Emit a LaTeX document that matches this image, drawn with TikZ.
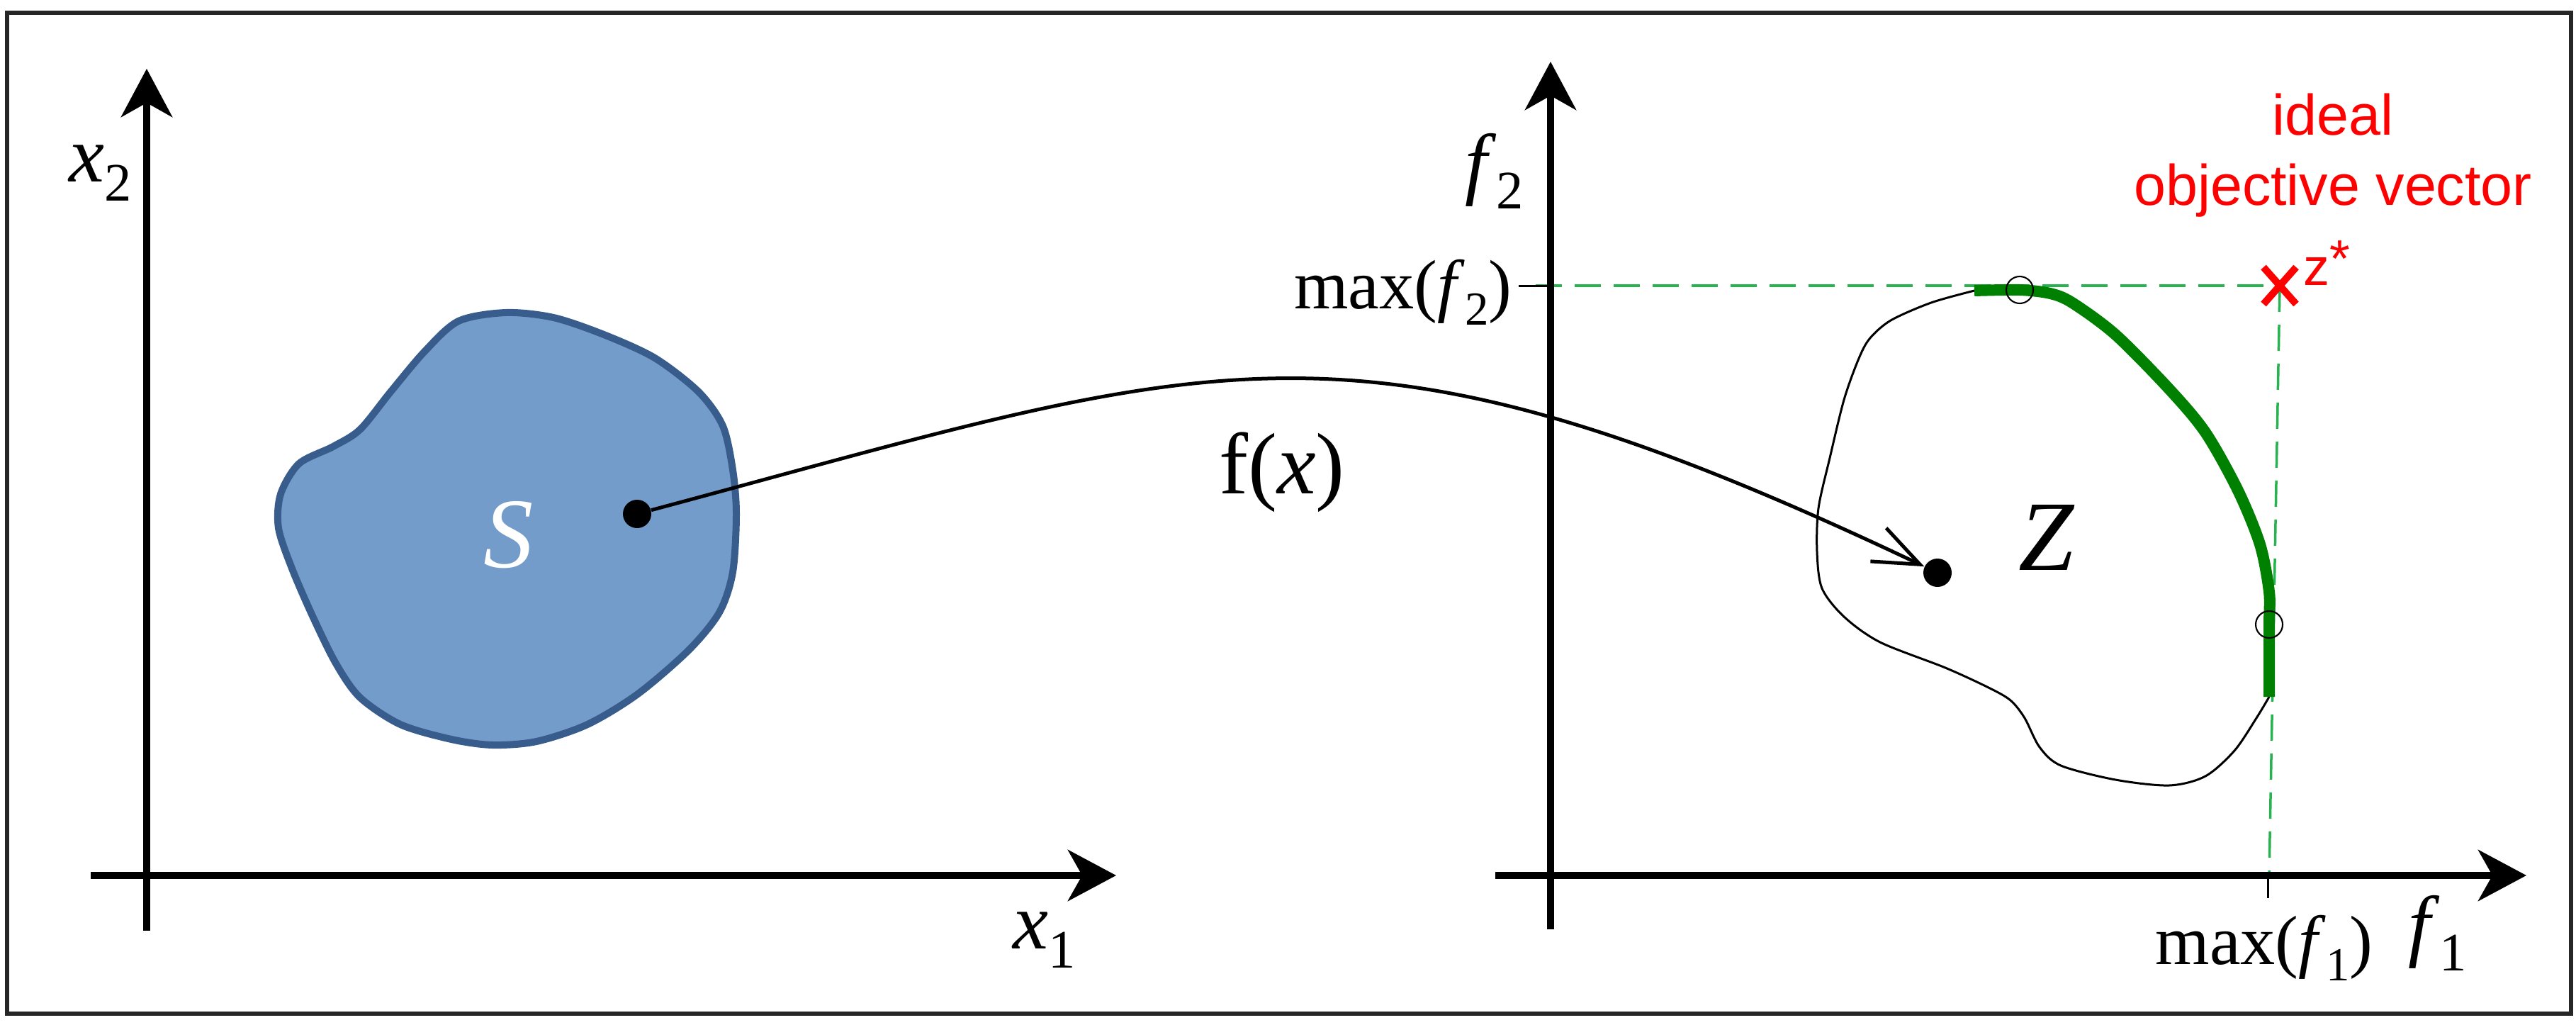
\documentclass[tikz,border=0pt]{standalone}
\usepackage{fontspec}
\setmainfont{Liberation Serif}
\setsansfont{Liberation Sans}
\usetikzlibrary{arrows.meta, shapes.misc}

\definecolor{setfill}{RGB}{115,156,203}
\definecolor{setline}{RGB}{56,93,140}
\definecolor{guidegreen}{RGB}{40,178,80}
\definecolor{frontgreen}{RGB}{0,128,0}

\newcommand{\axisfont}{\fontsize{32}{38}\selectfont}
\newcommand{\maxfont}{\fontsize{28}{34}\selectfont}
\newcommand{\setfont}{\fontsize{40}{48}\selectfont}
\newcommand{\idx}[1]{\raisebox{-0.24em}{\scalebox{0.68}{#1}}}

\begin{document}
\begin{tikzpicture}[
  axis/.style={line width=0.1cm, -{Stealth[length=0.68cm, width=0.72cm, inset=0.2cm]}},
  dot/.style={circle, fill=black, inner sep=0pt, minimum size=0.4cm},
  ring/.style={circle, draw, line width=0.6pt, inner sep=0pt, minimum size=0.38cm},
  guide/.style={guidegreen, line width=0.045cm, dash pattern=on 0.37cm off 0.18cm},
  axislabel/.style={inner sep=0pt, font=\axisfont},
  maxlabel/.style={inner sep=0pt, font=\maxfont}
]
\useasboundingbox (0,0) rectangle (36.35,14.45);
\draw[black!85, line width=0.06cm] (0.10,0.155) rectangle (36.28,14.27);

% decision space
\draw[axis] (2.07,1.32) -- (2.07,13.48);
\draw[axis] (1.28,2.10) -- (15.75,2.10);
\node[axislabel, anchor=base west] (xtwo) at (0.97,11.88) {\textit{x}\idx{2}};
\node[axislabel, anchor=base west] (xone) at (14.29,1.07) {\textit{x}\idx{1}};
\draw[fill=setfill, draw=setline, line width=0.1cm] plot[smooth cycle] coordinates {
  (7.14,10.04) (7.81,9.97) (8.52,9.73) (9.24,9.40) (9.86,8.92) (10.20,8.44)
  (10.34,7.82) (10.39,7.20) (10.34,6.38) (10.15,5.81) (9.72,5.28) (9.00,4.66)
  (8.29,4.23) (7.57,3.99) (6.95,3.94) (6.37,4.02) (5.65,4.23) (5.08,4.61)
  (4.74,5.09) (4.41,5.76) (4.12,6.43) (3.93,7.00) (3.96,7.48) (4.22,7.91)
  (4.70,8.15) (5.08,8.39) (5.51,8.92) (5.99,9.49) (6.47,9.92)};
\node[font=\setfont, text=white, anchor=base, inner sep=0pt] (sname) at (7.18,6.45) {\textit{S}};
\node[dot] (xpt) at (8.99,7.20) {};

% objective space
\coordinate (gstart) at (21.67,10.42);
\coordinate (fonetop) at (32.02,2.10);
\draw[guide] (gstart) -- (32.17,10.42);
\draw[guide, line width=0.035cm] (32.17,10.42) -- (fonetop);
\draw[axis] (21.88,1.34) -- (21.88,13.58);
\draw[axis] (21.10,2.10) -- (35.65,2.10);
\draw[line width=0.03cm] (21.43,10.42) -- (21.88,10.42);
\draw[line width=0.03cm] (32.00,2.10) -- (32.00,1.78);
\node[axislabel, anchor=base west] (ftwo) at (20.67,11.77) {\textit{f}\idx{2}};
\node[axislabel, anchor=base west] (fone) at (33.98,1.03) {\textit{f}\idx{1}};
\node[maxlabel, anchor=base east] (maxtwo) at (21.34,10.10) {max(\textit{f}\idx{2})};
\node[maxlabel, anchor=base] (maxone) at (31.95,0.85) {max(\textit{f}\idx{1})};

\draw[line width=0.03cm] plot[smooth] coordinates {
  (32.02,4.62) (31.84,4.32) (31.53,3.86) (31.12,3.50) (30.61,3.37) (29.85,3.45)
  (29.08,3.65) (28.78,3.91) (28.57,4.32) (28.37,4.57) (28.06,4.75) (27.45,5.03)
  (26.53,5.39) (26.02,5.75) (25.71,6.15) (25.64,6.66) (25.66,7.28) (25.82,7.99)
  (26.02,8.81) (26.22,9.37) (26.38,9.67) (26.68,9.93) (27.25,10.18) (27.86,10.35)};
\draw[frontgreen, line width=0.16cm] plot[smooth] coordinates {
  (27.86,10.35) (28.50,10.36) (28.93,10.31) (29.24,10.18) (29.85,9.73) (30.61,8.96)
  (31.12,8.35) (31.58,7.53) (31.89,6.77) (32.02,6.10) (32.02,5.64) (32.02,4.62)};
\node[ring] (fronttop) at (28.50,10.36) {};
\node[ring] (frontright) at (32.02,5.64) {};
\node[dot] (zpt) at (27.34,6.37) {};
\node[font=\setfont, anchor=base, inner sep=0pt] (zname) at (28.88,6.41) {\textit{Z}};

\node[cross out, draw=red, line width=0.1cm, minimum width=0.36cm, minimum height=0.42cm, inner sep=0pt] (zstar) at (32.17,10.42) {};
\node[text=red, font=\sffamily\fontsize{21}{25}\selectfont, anchor=base west, inner sep=0pt] (zstarname) at (32.50,10.43) {z\raisebox{0.16em}{*}};
\node[text=red, font=\sffamily\fontsize{23}{28}\selectfont, align=center, inner sep=0pt] (ideal) at (32.92,12.26) {ideal\\objective vector};

% the mapping
\draw[line width=0.05cm, -{Straight Barb[length=0.65cm, width=0.52cm]}] (xpt) .. controls (17.20,9.40) and (19.01,10.32) .. (zpt);
\node[font=\fontsize{35}{42}\selectfont, anchor=base, inner sep=0pt] (fmap) at (18.09,7.49) {f(\textit{x})};
\end{tikzpicture}
\end{document}
